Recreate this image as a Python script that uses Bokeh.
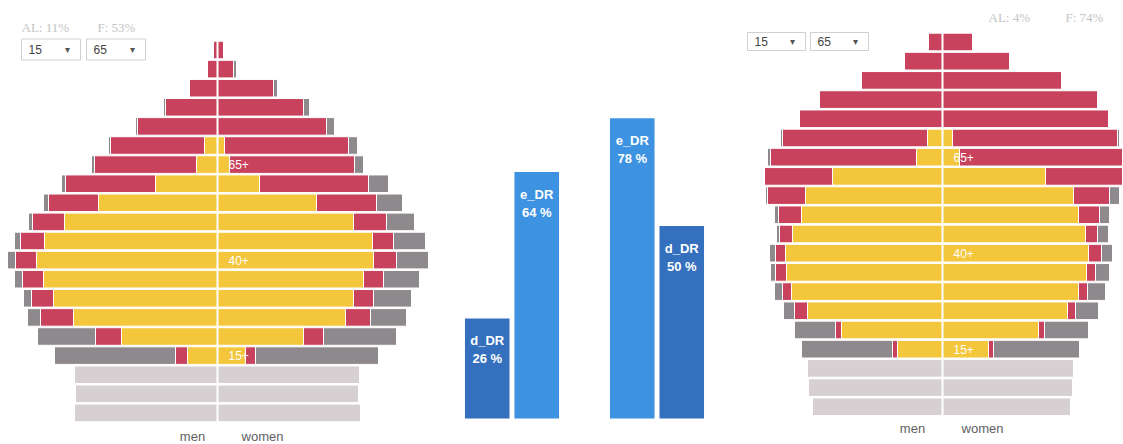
from bokeh.plotting import figure
from bokeh.layouts import row
from bokeh.models import Range1d, FactorRange, ColumnDataSource, Span
from bokeh.core.properties import value
from bokeh.embed import file_html
from bokeh.resources import INLINE

# ---------------- data ----------------
ages = ["0-4", "5-9", "10-14", "15-19", "20-24", "25-29", "30-34", "35-39", "40-44",
        "45-49", "50-54", "55-59", "60-64", "65-69", "70-74", "75-79", "80-84",
        "85-89", "90-94", "95-99"]

# adult age groups listed from 95-99 (top) down to 15-19 (thousands)
a_men_employed   = [0, 0, 0, 0, 0, 13, 21, 62, 119, 153, 173, 181, 174, 164, 144, 96, 30]
a_men_inactive   = [4, 10, 28, 52, 80, 94, 102, 90, 50, 32, 24, 21, 21, 22, 33, 26, 12]
a_men_education  = [1, 0, 1, 2, 2, 2, 3, 4, 5, 4, 6, 8, 8, 8, 13, 58, 121]
a_wom_employed   = [0, 0, 0, 0, 0, 7, 12, 42, 99, 136, 155, 156, 146, 136, 128, 86, 28]
a_wom_inactive   = [6, 16, 56, 86, 109, 124, 125, 109, 60, 33, 21, 23, 20, 20, 25, 20, 10]
a_wom_education  = [0, 3, 4, 6, 8, 9, 9, 20, 26, 28, 32, 32, 36, 38, 36, 73, 123]
# children 10-14, 5-9, 0-4
a_men_children   = [143, 142, 143]
a_wom_children   = [142, 141, 143]

b_men_employed   = [0, 0, 0, 0, 0, 15, 26, 110, 137, 141, 150, 157, 156, 151, 135, 101, 45]
b_men_inactive   = [14, 38, 81, 123, 143, 145, 146, 68, 38, 23, 13, 10, 11, 9, 13, 6, 5]
b_men_education  = [0, 0, 0, 0, 1, 2, 3, 1, 2, 4, 3, 6, 5, 8, 11, 41, 91]
b_wom_employed   = [0, 0, 0, 0, 0, 10, 17, 103, 131, 136, 143, 146, 144, 136, 125, 96, 46]
b_wom_inactive   = [30, 67, 119, 155, 166, 165, 163, 77, 36, 21, 12, 13, 9, 9, 8, 6, 5]
b_wom_education  = [0, 0, 0, 0, 1, 2, 0, 0, 10, 10, 11, 11, 14, 18, 23, 44, 86]
b_men_children   = [135, 134, 130]
b_wom_children   = [131, 130, 128]

a_header = ["AL: 11%", "F: 53%"]
b_header = ["AL: 4%", "F: 74%"]
dropdown_values = ["15", "65"]
threshold_labels = ["15+", "40+", "65+"]

ratio_groups = [("A", "d_DR"), ("A", "e_DR"), ("B", "e_DR"), ("B", "d_DR")]
ratio_names = ["d_DR", "e_DR", "e_DR", "d_DR"]
ratio_values = [26, 64, 78, 50]

# ---------------- style ----------------
YELLOW = "#F4C63C"
RED = "#C9425D"
GRAY = "#8D898C"
LIGHT = "#D6D0D2"
DARK_BLUE = "#3470BD"
LIGHT_BLUE = "#3D93E2"
FONT = "Liberation Sans"
H = 444


def base_fig(w, xr, yr):
    p = figure(width=w, height=H, x_range=xr, y_range=yr, output_backend="svg",
               toolbar_location=None, min_border=0)
    p.axis.visible = False
    p.grid.visible = False
    p.outline_line_color = None
    p.background_fill_color = "white"
    p.border_fill_color = "white"
    return p


def pyramid(w, center_px, y0, scale, data, header, header_px, dd_px, mw_px):
    y1 = y0 + H / scale
    p = base_fig(w, Range1d(-center_px, w - center_px), Range1d(y0, y1))

    def dy(fig_y):  # figure pixel (from top) -> data y
        return y1 - fig_y / scale

    (me, mi, md, we, wi, wd, mc, wc) = data
    n = len(me)
    ks = [ages.index(a) for a in ages[::-1][:n]]
    segs = []
    for e, i, d, sign in ((me, mi, md, -1), (we, wi, wd, 1)):
        l0 = [0] * n
        l1 = [sign * v for v in e]
        l2 = [sign * (a + b) for a, b in zip(e, i)]
        l3 = [sign * (a + b + c) for a, b, c in zip(e, i, d)]
        segs += [(l0, l1, YELLOW), (l1, l2, RED), (l2, l3, GRAY)]
    for a, b, c in segs:
        src = ColumnDataSource(dict(y=ks, left=[min(u, v) for u, v in zip(a, b)],
                                    right=[max(u, v) for u, v in zip(a, b)]))
        p.hbar(y="y", left="left", right="right", height=0.92, source=src,
               fill_color=c, line_color="white", line_width=1)
    kc = [ages.index(a) for a in ages[:3][::-1]]
    csrc = ColumnDataSource(dict(y=kc, left=[-v for v in mc], right=wc))
    p.hbar(y="y", left="left", right=0, height=0.92, source=csrc,
           fill_color=LIGHT, line_color="white", line_width=1)
    p.hbar(y="y", left=0, right="right", height=0.92, source=csrc,
           fill_color=LIGHT, line_color="white", line_width=1)
    p.add_layout(Span(location=0, dimension="height", line_color="white", line_width=2))

    lab_k = [ages.index(t.replace("+", "-") + str(int(t[:-1]) + 4)) for t in threshold_labels]
    p.text(x=[0] * 3, y=lab_k, text=threshold_labels, x_offset=11, text_color="white",
           text_font=value(FONT), text_font_size="12px", text_align="left",
           text_baseline="middle")

    # header
    hx = [x - center_px for x in header_px[0]]
    p.text(x=hx, y=[dy(header_px[1])] * 2, text=header, text_color="#c4c4c4",
           text_font=value("Liberation Serif"), text_font_size="13px",
           text_align="left", text_baseline="middle")
    # dropdowns
    bx = [x - center_px for x in dd_px[0]]
    byy = dy(dd_px[1])
    p.rect(x=[b + dd_px[2] / 2 for b in bx], y=[byy] * 2, width=dd_px[2],
           height=dd_px[3], width_units="screen", height_units="screen",
           fill_color="white", line_color="#d0d0d0", line_width=1)
    p.text(x=[b + 7 for b in bx], y=[byy] * 2, text=dropdown_values, text_color="#444444",
           text_font=value(FONT), text_font_size="12px", text_align="left",
           text_baseline="middle")
    p.text(x=[b + dd_px[2] - 13 for b in bx], y=[byy] * 2, text=["\u25BE"] * 2,
           text_color="#555555", text_font=value("DejaVu Sans"), text_font_size="10px",
           text_align="center", text_baseline="middle")
    # men / women
    p.text(x=[mw_px[0], mw_px[1]], y=[dy(mw_px[2])] * 2, text=["men", "women"],
           text_color="#606060", text_font=value(FONT), text_font_size="13px",
           text_align="center", text_baseline="middle")
    return p


left = pyramid(448, 217, -1.654, 19.1,
               (a_men_employed, a_men_inactive, a_men_education,
                a_wom_employed, a_wom_inactive, a_wom_education,
                a_men_children, a_wom_children),
               a_header, ([21, 97], 27), ([21, 86], 49, 59, 21), (-25, 45, 436))

right = pyramid(403, 222, -1.964, 19.2,
                (b_men_employed, b_men_inactive, b_men_education,
                 b_wom_employed, b_wom_inactive, b_wom_education,
                 b_men_children, b_wom_children),
                b_header, ([268, 345], 17), ([27, 90], 41, 58, 18), (-30, 40, 428))

# middle ratio bars
mid_scale = 3.85
my0 = -26 / mid_scale
mid = base_fig(272,
               FactorRange(*ratio_groups, group_padding=0.93, factor_padding=0.0,
                           range_padding=0.2826, range_padding_units="absolute"),
               Range1d(my0, my0 + H / mid_scale))
msrc = ColumnDataSource(dict(x=ratio_groups, top=ratio_values, name=ratio_names,
                             lab=["%d %%" % v for v in ratio_values],
                             color=[DARK_BLUE if n == "d_DR" else LIGHT_BLUE for n in ratio_names]))
mid.vbar(x="x", top="top", bottom=0, width=0.9, source=msrc, fill_color="color",
         line_color=None)
mid.text(x="x", y="top", text="name", source=msrc, y_offset=22, text_color="white",
         text_font=value(FONT), text_font_size="13px", text_font_style="bold",
         text_align="center", text_baseline="middle")
mid.text(x="x", y="top", text="lab", source=msrc, y_offset=40, text_color="white",
         text_font=value(FONT), text_font_size="13px", text_font_style="bold",
         text_align="center", text_baseline="middle")

layout = row(left, mid, right)
open("out.html", "w").write(file_html(layout, INLINE))
